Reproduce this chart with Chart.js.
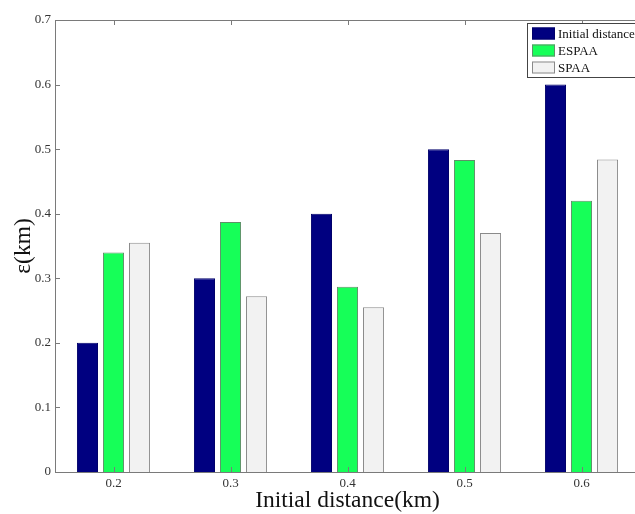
<!DOCTYPE html>
<html><head><meta charset="utf-8">
<script src="https://cdn.jsdelivr.net/npm/chart.js@4.4.0/dist/chart.umd.min.js"></script>
<style>
html,body{margin:0;padding:0;background:#fff;overflow:hidden;width:635px;height:514px}
#wrap{position:absolute;left:0;top:0;width:645px;height:514px}
canvas{display:block}
</style>
</head><body><div id="wrap"><canvas id="c" width="645" height="514" style="width:645px;height:514px"></canvas></div>
<script>
const categories = ['0.2', '0.3', '0.4', '0.5', '0.6'];
const initialDistance = [0.2, 0.3, 0.4, 0.5, 0.6];
const espaa = [0.34, 0.387, 0.287, 0.483, 0.42];
const spaa = [0.355, 0.272, 0.255, 0.37, 0.484];
const yTicks = [0, 0.1, 0.2, 0.3, 0.4, 0.5, 0.6, 0.7];
const seriesNames = ['Initial distance', 'ESPAA', 'SPAA'];

const SERIF = '"Liberation Serif", "Times New Roman", serif';
const AXIS = '#7a7a7a';

const boxAndTicks = {
  id: 'boxAndTicks',
  afterDatasetsDraw(chart) {
    const {ctx, chartArea: a, scales: {x, y}} = chart;
    ctx.save();
    ctx.strokeStyle = AXIS;
    ctx.lineWidth = 1;
    ctx.beginPath();
    ctx.moveTo(Math.round(a.left) + 0.5, Math.round(a.top) + 0.5);
    ctx.lineTo(Math.round(a.right) + 0.5, Math.round(a.top) + 0.5);
    ctx.lineTo(Math.round(a.right) + 0.5, Math.round(a.bottom) + 0.5);
    ctx.stroke();
    const tl = 5;
    ctx.beginPath();
    y.ticks.forEach((t, i) => {
      const py = Math.round(y.getPixelForTick(i)) + 0.5;
      ctx.moveTo(a.left, py); ctx.lineTo(a.left + tl, py);
      ctx.moveTo(a.right, py); ctx.lineTo(a.right - tl, py);
    });
    x.ticks.forEach((t, i) => {
      const px = Math.round(x.getPixelForTick(i)) + 0.5;
      ctx.moveTo(px, a.bottom); ctx.lineTo(px, a.bottom - tl);
      ctx.moveTo(px, a.top); ctx.lineTo(px, a.top + tl);
    });
    ctx.stroke();
    ctx.restore();
  },
  afterDraw(chart) {
    const {ctx} = chart;
    const ds = chart.data.datasets;
    ctx.save();
    const bx = 527, by = 23, bw = 125, bh = 54;
    ctx.fillStyle = '#ffffff';
    ctx.fillRect(bx, by, bw, bh);
    ctx.strokeStyle = '#444';
    ctx.lineWidth = 1;
    ctx.strokeRect(bx + 0.5, by + 0.5, bw, bh);
    const rows = [33.5, 50.5, 67.5];
    ctx.font = '13px ' + SERIF;
    ctx.textBaseline = 'middle';
    ctx.textAlign = 'left';
    ds.forEach((d, i) => {
      const cy = rows[i];
      ctx.fillStyle = d.backgroundColor;
      ctx.fillRect(532, cy - 6, 23, 12);
      ctx.strokeStyle = d.borderColor;
      ctx.strokeRect(532.5, cy - 5.5, 22, 11);
      ctx.fillStyle = '#111';
      ctx.fillText(d.label, 558, cy + 1);
    });
    ctx.restore();
  }
};

new Chart(document.getElementById('c'), {
  type: 'bar',
  data: {
    labels: categories,
    datasets: [
      {label: seriesNames[0], data: initialDistance, backgroundColor: '#000080', borderColor: '#00006a', borderWidth: 1},
      {label: seriesNames[1], data: espaa, backgroundColor: '#16ff58', borderColor: '#5f8f68', borderWidth: 1},
      {label: seriesNames[2], data: spaa, backgroundColor: '#f2f2f2', borderColor: '#8a8a8a', borderWidth: 1}
    ]
  },
  options: {
    responsive: false,
    animation: false,
    devicePixelRatio: 1,
    layout: {padding: {top: 20, right: 5, bottom: 0, left: 0}},
    categoryPercentage: 0.667,
    barPercentage: 0.81,
    plugins: {legend: {display: false}, tooltip: {enabled: false}},
    scales: {
      x: {
        grid: {display: false, drawTicks: false},
        border: {display: true, color: AXIS, width: 1},
        ticks: {color: '#333', font: {family: SERIF, size: 13}, padding: 4, maxRotation: 0},
        title: {display: true, text: 'Initial distance(km)', color: '#111', font: {family: SERIF, size: 23.5}, padding: {top: 0, bottom: -1}},
        afterFit(s) { s.height = 42; }
      },
      y: {
        min: 0, max: 0.7,
        grid: {display: false, drawTicks: false},
        border: {display: true, color: AXIS, width: 1},
        afterBuildTicks(s) { s.ticks = yTicks.map(v => ({value: v})); },
        ticks: {color: '#333', font: {family: SERIF, size: 13}, padding: 4,
          callback: v => (v === 0 ? '0' : Number(v).toFixed(1))},
        title: {display: true, text: 'ε(km)', color: '#111', font: {family: SERIF, size: 23.5}, padding: {top: 10, bottom: 0}},
        afterFit(s) { s.width = 55; }
      }
    }
  },
  plugins: [boxAndTicks]
});
</script>
</body></html>
